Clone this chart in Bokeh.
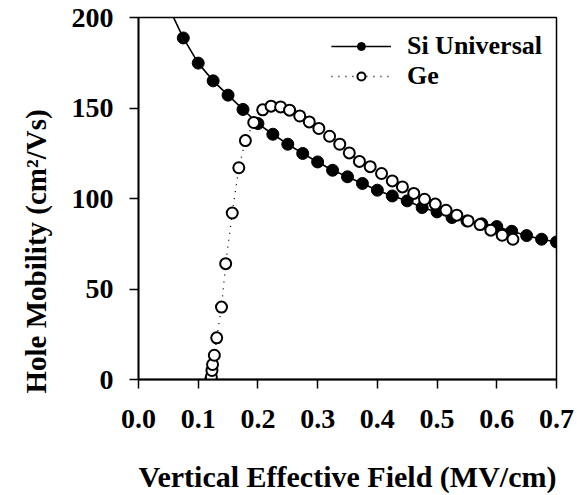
from bokeh.plotting import figure
from bokeh.models import FixedTicker, PrintfTickFormatter, Legend, LegendItem, Range1d, Title
from bokeh.embed import file_html
from bokeh.resources import INLINE

# Si universal hole mobility (filled markers)
si_x = [0.075, 0.1, 0.125, 0.15, 0.175, 0.2, 0.225, 0.25, 0.275, 0.3, 0.325, 0.35,
        0.375, 0.4, 0.425, 0.45, 0.475, 0.5, 0.525, 0.55, 0.575, 0.6, 0.625, 0.65,
        0.675, 0.7]
si_y = [188.7, 174.8, 165.0, 157.1, 149.2, 141.4, 135.5, 130.0, 124.9, 120.2, 115.6, 112.0,
        108.3, 104.6, 101.4, 98.7, 95.0, 92.6, 89.5, 87.6, 86.0, 84.5, 81.9, 79.5,
        77.5, 76.0]
# the solid Si curve starts above the top of the frame
si_line_x = [0.05] + si_x
si_line_y = [206.0] + si_y

# Ge hole mobility (open markers)
ge_x = [0.121, 0.122, 0.123, 0.124, 0.127, 0.131, 0.139, 0.146, 0.157, 0.168, 0.179,
        0.193, 0.208, 0.222, 0.238, 0.253, 0.270, 0.286, 0.302, 0.320, 0.337, 0.353,
        0.370, 0.388, 0.407, 0.425, 0.442, 0.461, 0.479, 0.497, 0.515, 0.533, 0.552,
        0.572, 0.590, 0.609, 0.627]
ge_y = [0.0, 1.4, 5.0, 8.3, 13.4, 23.0, 40.0, 64.0, 92.0, 117.0, 132.0,
        142.0, 149.0, 151.0, 150.6, 148.8, 145.6, 142.3, 138.7, 134.4, 130.0, 125.2,
        120.5, 117.6, 113.8, 109.7, 106.4, 102.8, 99.6, 96.9, 93.5, 90.8, 87.6,
        85.6, 82.5, 79.7, 77.5]

x_ticks = [0.0, 0.1, 0.2, 0.3, 0.4, 0.5, 0.6, 0.7]
y_ticks = [0, 50, 100, 150, 200]

FONT = "Liberation Serif"

p = figure(width=577, height=495, output_backend="svg", toolbar_location=None,
           x_range=Range1d(0, 0.7), y_range=Range1d(0, 200),
           min_border_left=138, min_border_right=21, min_border_top=17,
           min_border_bottom=116)

p.background_fill_color = "white"
p.border_fill_color = "white"
p.grid.visible = False
p.outline_line_color = "black"
p.outline_line_width = 1.5

for ax in (p.xaxis[0], p.yaxis[0]):
    ax.axis_line_color = "black"
    ax.axis_line_width = 1.8
    ax.major_tick_line_color = "black"
    ax.major_tick_line_width = 1.5
    ax.major_tick_in = 0
    ax.major_tick_out = 9
    ax.minor_tick_line_color = None
    ax.major_label_text_font = FONT
    ax.major_label_text_font_style = "bold"
    ax.major_label_text_font_size = "28px"
    ax.major_label_text_color = "black"
    ax.axis_label_text_font = FONT
    ax.axis_label_text_font_style = "bold"
    ax.axis_label_text_font_size = "30px"
    ax.axis_label_text_color = "black"

p.xaxis.ticker = FixedTicker(ticks=x_ticks)
p.xaxis.formatter = PrintfTickFormatter(format="%.1f")
p.yaxis.ticker = FixedTicker(ticks=y_ticks)
p.xaxis.major_label_standoff = 21
p.yaxis.major_label_standoff = 16
p.xaxis.axis_label = "Vertical Effective Field (MV/cm)"
p.xaxis.axis_label_standoff = 29

# y-axis title, placed like the reference (starting a little below the frame bottom)
ytitle = Title(text="Hole Mobility (cm\u00b2/Vs)", align="left", offset=-14,
               vertical_align="middle", standoff=32,
               text_font=FONT, text_font_style="bold", text_font_size="29px",
               text_color="black")
p.add_layout(ytitle, "left")

si_l = p.line(si_line_x, si_line_y, line_color="black", line_width=1.6)
si_m = p.scatter(si_x, si_y, marker="circle", size=12, fill_color="black",
                 line_color="black", line_width=1)
ge_l = p.line(ge_x, ge_y, line_color="black", line_width=1.3, line_dash="1 6")
ge_m = p.scatter(ge_x, ge_y, marker="circle", size=11, fill_color="white",
                 line_color="black", line_width=2)

legend = Legend(items=[LegendItem(label="Si Universal", renderers=[si_l, si_m]),
                       LegendItem(label="Ge", renderers=[ge_l, ge_m])],
                location="top_right")
legend.border_line_color = None
legend.background_fill_alpha = 0
legend.label_text_font = FONT
legend.label_text_font_style = "bold"
legend.label_text_font_size = "26px"
legend.label_text_color = "black"
legend.glyph_width = 60
legend.glyph_height = 20
legend.label_height = 20
legend.label_standoff = 16
legend.spacing = -4
legend.margin = 14
legend.padding = 10
p.add_layout(legend)

open("out.html", "w").write(file_html(p, INLINE))
